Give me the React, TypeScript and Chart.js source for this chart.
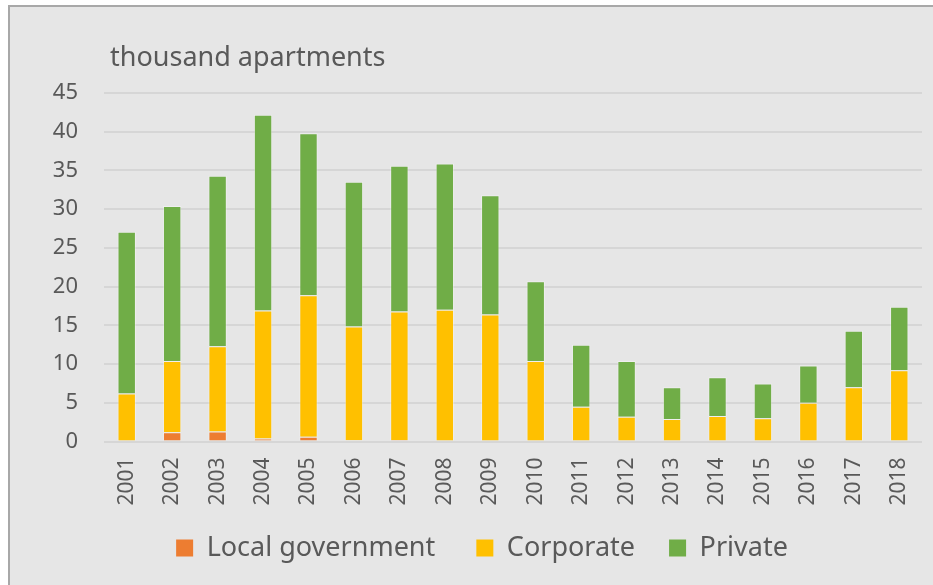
import { useEffect, useRef } from "react";
import { Chart, registerables } from "chart.js";

Chart.register(...registerables);

const years = ["2001", "2002", "2003", "2004", "2005", "2006", "2007", "2008", "2009", "2010", "2011", "2012", "2013", "2014", "2015", "2016", "2017", "2018"];
const localGovernment = [0, 1.2, 1.3, 0.4, 0.6, 0.15, 0.2, 0, 0, 0, 0, 0, 0, 0, 0, 0, 0, 0];
const corporate = [6.2, 9.2, 11.0, 16.5, 18.3, 14.7, 16.6, 17.0, 16.4, 10.4, 4.5, 3.2, 2.9, 3.3, 3.0, 5.0, 7.0, 9.2];
const privateSector = [20.9, 20.0, 22.0, 25.3, 20.9, 18.7, 18.8, 18.9, 15.4, 10.3, 8.0, 7.2, 4.1, 5.0, 4.5, 4.8, 7.3, 8.2];
const seriesNames = ["Local government", "Corporate", "Private"];
const unitLabel = "thousand apartments";
const yMax = 45;
const yStep = 5;

const FONT = '"Noto Sans", "Open Sans", sans-serif';
const TEXT = "#595959";
const legendGaps = ["  ", " ", ""];

export default function App() {
  const ref = useRef<HTMLCanvasElement>(null);

  useEffect(() => {
    if (!ref.current) return;
    const titlePlugin = {
      id: "unitTitle",
      afterDraw(chart: any) {
        const { ctx, chartArea } = chart;
        ctx.save();
        ctx.font = `27px ${FONT}`;
        ctx.fillStyle = TEXT;
        ctx.textAlign = "left";
        ctx.textBaseline = "alphabetic";
        ctx.fillText(unitLabel, chartArea.left + 6, chartArea.top - 26.6);
        ctx.restore();
      },
    };
    const edge = "rgba(255,255,255,0.35)";
    const chart = new Chart(ref.current, {
      type: "bar",
      data: {
        labels: years,
        datasets: [
          { label: seriesNames[0], data: localGovernment, backgroundColor: "#ED7D31", borderColor: edge, borderWidth: 1 },
          { label: seriesNames[1], data: corporate, backgroundColor: "#FFC000", borderColor: edge, borderWidth: 1 },
          { label: seriesNames[2], data: privateSector, backgroundColor: "#70AD47", borderColor: edge, borderWidth: 1 },
        ],
      },
      options: {
        responsive: false,
        animation: false,
        devicePixelRatio: 1,
        layout: { padding: { top: 86, left: 32, right: 28, bottom: 13.5 } },
        datasets: { bar: { categoryPercentage: 1, barPercentage: 0.405 } },
        plugins: {
          title: { display: false },
          tooltip: { enabled: false },
          legend: {
            position: "bottom",
            labels: {
              boxWidth: 17,
              boxHeight: 17,
              padding: 27,
              color: TEXT,
              font: { family: FONT, size: 27 },
              generateLabels(chart: any) {
                const items = Chart.defaults.plugins.legend.labels.generateLabels(chart);
                return items.map((it: any, i: number) => ({
                  ...it,
                  text: it.text + (legendGaps[i] || ""),
                  strokeStyle: "rgba(0,0,0,0)",
                  lineWidth: 0,
                }));
              },
            },
          },
        },
        scales: {
          x: {
            stacked: true,
            grid: { display: false, drawTicks: false },
            border: { display: false },
            ticks: {
              color: TEXT,
              font: { family: FONT, size: 21 },
              minRotation: 90,
              maxRotation: 90,
              padding: 16,
              autoSkip: false,
            },
            afterFit(scale: any) {
              scale.height = 66;
            },
          },
          y: {
            stacked: true,
            min: 0,
            max: yMax,
            grid: { color: "#d6d6d6", lineWidth: 2, drawTicks: false },
            border: { display: false },
            ticks: {
              stepSize: yStep,
              color: TEXT,
              font: { family: FONT, size: 22 },
              padding: 26,
            },
            afterFit(scale: any) {
              scale.width = 62;
            },
          },
        },
      },
      plugins: [titlePlugin],
    });
    return () => chart.destroy();
  }, []);

  return (
    <div
      style={{
        position: "fixed",
        left: 8,
        top: 5,
        width: 942,
        height: 580,
        boxSizing: "border-box",
        borderTop: "2px solid #a8a8a8",
        borderLeft: "2px solid #a8a8a8",
        background: "#e6e6e6",
        overflow: "hidden",
      }}
    >
      <canvas ref={ref} width={940} height={578} style={{ display: "block", width: 940, height: 578 }} />
    </div>
  );
}
